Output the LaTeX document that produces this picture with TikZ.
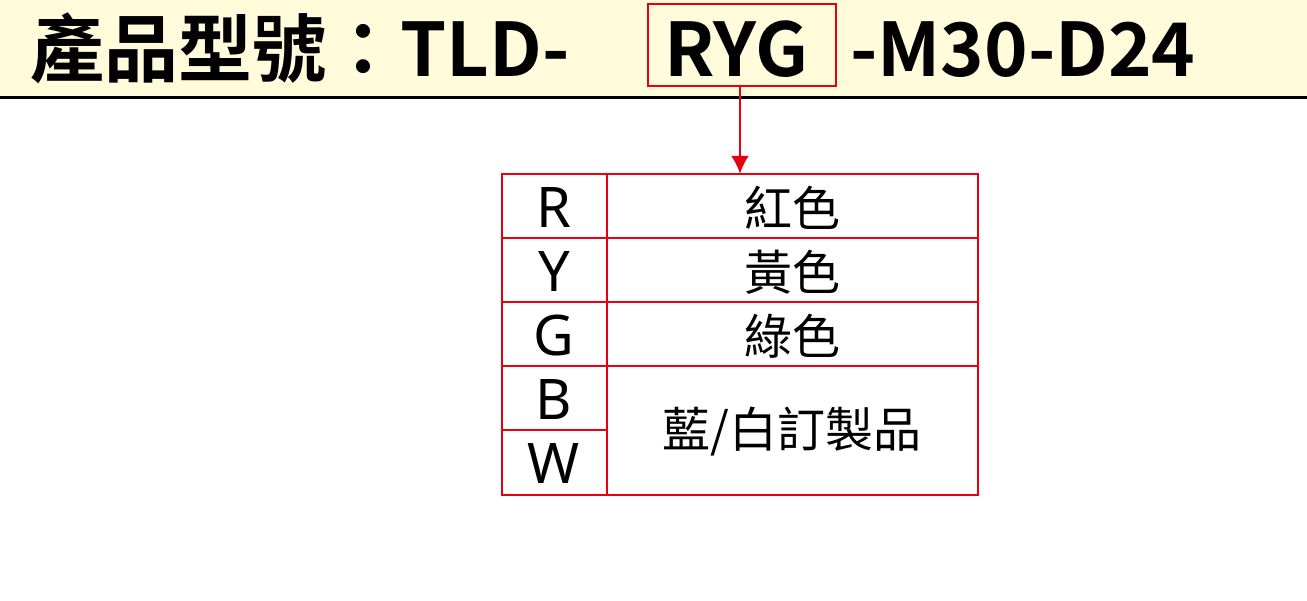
\documentclass[tikz,border=0pt]{standalone}
\usepackage{fontspec}
\setmainfont{Noto Sans}
\newfontfamily\cjk{Noto Sans CJK TC}[BoldFont={Noto Sans CJK TC Bold}]
\definecolor{hdr}{HTML}{FFFBDB}
\definecolor{markred}{HTML}{E60012}
\usetikzlibrary{positioning,arrows.meta}
\begin{document}
\begin{tikzpicture}[x=1pt,y=-1pt,
  cell/.style={draw=markred,line width=2.5pt},
  code/.style={font=\fontsize{56}{56}\selectfont},
  colour/.style={font=\cjk\fontsize{48}{48}\selectfont},
  title/.style={font=\cjk\bfseries\fontsize{74}{74}\selectfont,inner sep=0pt,anchor=base west}]
\useasboundingbox (0,0) rectangle (1307,600);
\fill[hdr] (0,0) rectangle (1307,96);
\draw[line width=3pt] (0,97) -- (1307,97);
\node[title] (pre) at (30,76) {產品型號：TLD-};
\node[title] (ryg) at (664,76) {RYG};
\node[title] (suf) at (850,76) {-M30-D24};
\node[draw=markred,line width=2pt,minimum width=188pt,minimum height=82pt] (box) at (742,45) {};
\node[minimum width=476pt,minimum height=0pt,inner sep=0pt] (top) at (740,174) {};
\draw[markred,line width=2.5pt,-{Latex[length=18pt,width=18pt]}] (box.south -| top) -- (top);
% table
\draw[cell] (502,174) rectangle (978,495);
\draw[cell] (607,174) -- (607,495);
\draw[cell] (502,238) -- (978,238);
\draw[cell] (502,302) -- (978,302);
\draw[cell] (502,366) -- (978,366);
\draw[cell] (502,430) -- (607,430);
\node[code] (r) at (554,208) {R};
\node[code] (y) at (554,272) {Y};
\node[code] (g) at (554,336) {G};
\node[code] (b) at (554,400) {B};
\node[code] (w) at (554,464) {W};
\node[colour] (red) at (792,208) {紅色};
\node[colour] (yel) at (792,272) {黃色};
\node[colour] (grn) at (792,336) {綠色};
\node[colour] (bw) at (792,432) {藍/白訂製品};
\end{tikzpicture}
\end{document}
